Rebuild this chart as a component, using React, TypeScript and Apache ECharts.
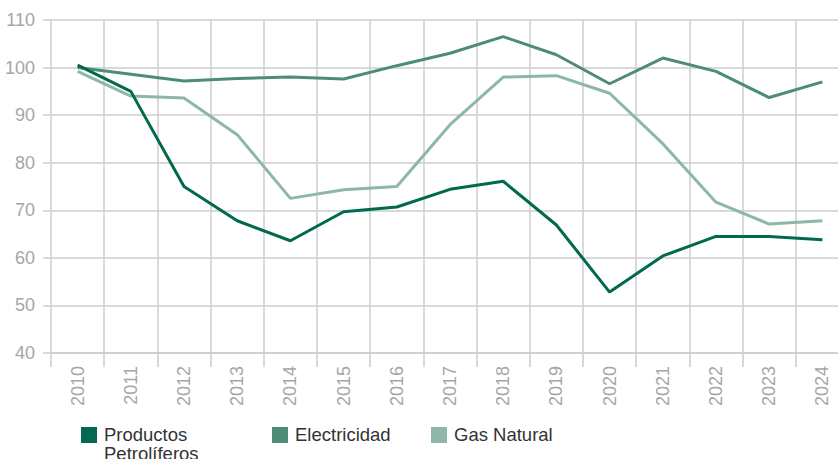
import React, { useEffect, useRef } from "react";
import * as echarts from "echarts";

const years = ["2010","2011","2012","2013","2014","2015","2016","2017","2018","2019","2020","2021","2022","2023","2024"];
const productos = [100.5, 95, 75, 67.8, 63.6, 69.7, 70.7, 74.4, 76.1, 66.9, 52.8, 60.4, 64.5, 64.5, 63.8];
const electricidad = [100, 98.6, 97.2, 97.7, 98.0, 97.6, 100.4, 103.0, 106.5, 102.7, 96.6, 102.0, 99.2, 93.7, 97.0];
const gasNatural = [99.2, 94.0, 93.6, 85.9, 72.5, 74.3, 75.0, 88.0, 98.0, 98.3, 94.6, 84.0, 71.7, 67.1, 67.8];

const names = ["Productos Petrolíferos", "Electricidad", "Gas Natural"];
const legendLabels = ["Productos\nPetrolíferos", "Electricidad", "Gas Natural"];
const colors = ["#00694F", "#4E8B78", "#8DB7A6"];

export default function App() {
  const ref = useRef<HTMLDivElement>(null);
  useEffect(() => {
    if (!ref.current) return;
    const chart = echarts.init(ref.current, null, { renderer: "svg" });
    const font = "'Liberation Sans', Arial, sans-serif";
    const legendX = [81, 272, 431];
    const legendGraphics: any[] = [];
    legendLabels.forEach((label, i) => {
      legendGraphics.push({
        type: "rect",
        shape: { x: legendX[i], y: 427, width: 16, height: 16 },
        style: { fill: colors[i] },
      });
      legendGraphics.push({
        type: "text",
        x: legendX[i] + 23,
        y: 424.5,
        style: {
          text: label,
          fill: "#333333",
          fontSize: 18.5,
          fontFamily: font,
          lineHeight: 19.5,
          verticalAlign: "top",
          align: "left",
        },
      });
    });
    chart.setOption({
      animation: false,
      grid: { left: 51, right: 11, top: 20, bottom: 106, containLabel: false },
      graphic: legendGraphics,
      xAxis: {
        type: "category",
        data: years,
        boundaryGap: true,
        axisLine: { show: true, lineStyle: { color: "#cccccc", width: 1.5 } },
        axisTick: { show: true, length: 14, lineStyle: { color: "#cccccc", width: 1.5 } },
        splitLine: { show: true, lineStyle: { color: "#cccccc", width: 1.5 } },
        axisLabel: { rotate: 90, fontSize: 18, color: "#a6a6a6", fontFamily: font, margin: 13 },
      },
      yAxis: {
        type: "value",
        min: 40,
        max: 110,
        interval: 10,
        axisLine: { show: false },
        axisTick: { show: true, length: 8, lineStyle: { color: "#cccccc", width: 1.5 } },
        splitLine: { show: true, lineStyle: { color: "#cccccc", width: 1.5 } },
        axisLabel: { fontSize: 18, color: "#a6a6a6", fontFamily: font, margin: 16 },
      },
      series: [
        { name: names[0], type: "line", data: productos, color: colors[0], symbol: "none", lineStyle: { width: 3, color: colors[0] }, z: 4 },
        { name: names[1], type: "line", data: electricidad, color: colors[1], symbol: "none", lineStyle: { width: 3, color: colors[1] }, z: 3 },
        { name: names[2], type: "line", data: gasNatural, color: colors[2], symbol: "none", lineStyle: { width: 3, color: colors[2] }, z: 2 },
      ],
    });
    return () => chart.dispose();
  }, []);
  return (
    <div style={{ position: "fixed", left: 0, top: 0, width: 838, height: 459, overflow: "hidden", background: "#fff" }}>
      <div ref={ref} style={{ position: "absolute", left: 0, top: 0, width: 860, height: 459 }} />
    </div>
  );
}
